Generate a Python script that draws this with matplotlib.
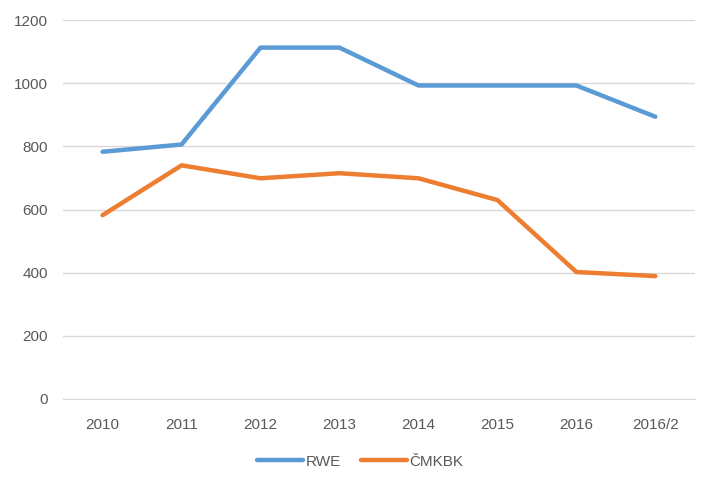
import numpy as np
import matplotlib.pyplot as plt

plt.rcParams['font.family'] = ['Liberation Sans', 'DejaVu Sans']

years = ['2010', '2011', '2012', '2013', '2014', '2015', '2016', '2016/2']
rwe = [783, 806, 1113, 1113, 993, 993, 993, 894]
cmkbk = [582, 740, 699, 715, 699, 630, 402, 389]

text_col = '#595959'
grid_col = '#D9D9D9'

fig = plt.figure(figsize=(7.09, 4.8), dpi=100)
ax = fig.add_axes([0.089, 0.169, 0.891, 0.789])

x = np.arange(len(years))
ax.plot(x, rwe, color='#5B9BD5', lw=3.2, label='RWE', solid_capstyle='round', solid_joinstyle='round')
ax.plot(x, cmkbk, color='#ED7D31', lw=3.2, label='ČMKBK', solid_capstyle='round', solid_joinstyle='round')

ax.set_xlim(-0.5, len(years) - 0.5)
ax.set_ylim(0, 1200)
ax.set_yticks(range(0, 1201, 200))
ax.set_xticks(x)
ax.set_xticklabels(years)
ax.grid(axis='y', color=grid_col, lw=1)
ax.set_axisbelow(True)
for s in ['top', 'right', 'left']:
    ax.spines[s].set_visible(False)
ax.spines['bottom'].set_color(grid_col)
ax.tick_params(length=0, labelsize=11, colors=text_col)
ax.tick_params(axis='x', pad=14)
ax.tick_params(axis='y', pad=11)

leg = fig.legend(loc='center', bbox_to_anchor=(0.508, 0.038), ncol=2, frameon=False,
                 fontsize=11, handlelength=3.0, columnspacing=1.3, handletextpad=0.15)
for t in leg.get_texts():
    t.set_color(text_col)

fig.savefig('out.png', dpi=100)
